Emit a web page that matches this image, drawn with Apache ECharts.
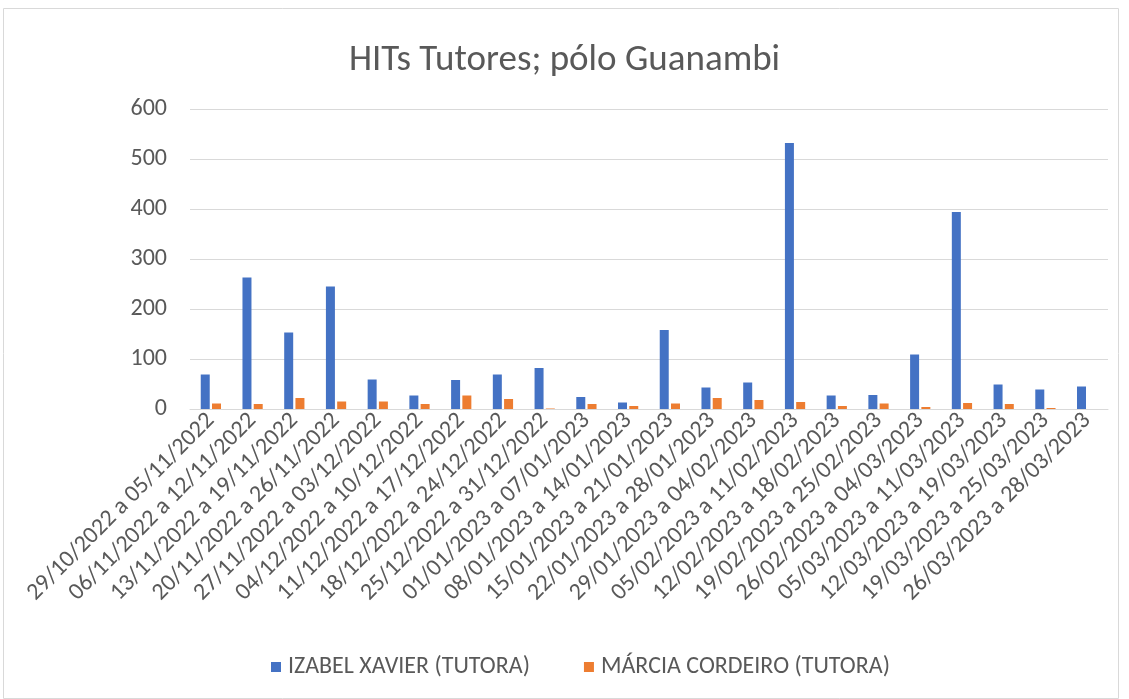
<!DOCTYPE html>
<html>
<head>
<meta charset="utf-8">
<script src="https://cdn.jsdelivr.net/npm/echarts@6/dist/echarts.min.js"></script>
<style>
  body { margin: 0; background: #fff; }
  #chart { width: 1129px; height: 699px; }
</style>
</head>
<body>
<div id="chart"></div>
<script>
var semanas = [
  '29/10/2022 a 05/11/2022', '06/11/2022 a 12/11/2022', '13/11/2022 a 19/11/2022',
  '20/11/2022 a 26/11/2022', '27/11/2022 a 03/12/2022', '04/12/2022 a 10/12/2022',
  '11/12/2022 a 17/12/2022', '18/12/2022 a 24/12/2022', '25/12/2022 a 31/12/2022',
  '01/01/2023 a 07/01/2023', '08/01/2023 a 14/01/2023', '15/01/2023 a 21/01/2023',
  '22/01/2023 a 28/01/2023', '29/01/2023 a 04/02/2023', '05/02/2023 a 11/02/2023',
  '12/02/2023 a 18/02/2023', '19/02/2023 a 25/02/2023', '26/02/2023 a 04/03/2023',
  '05/03/2023 a 11/03/2023', '12/03/2023 a 19/03/2023', '19/03/2023 a 25/03/2023',
  '26/03/2023 a 28/03/2023'
];
var izabel = [69, 263, 153, 245, 59, 27, 58, 69, 82, 24, 13, 158, 43, 53, 532, 27, 28, 109, 394, 49, 39, 45];
var marcia = [11, 10, 22, 15, 15, 10, 27, 20, 1, 10, 6, 11, 22, 18, 14, 6, 11, 4, 12, 10, 2, 0];

var fonte = 'Carlito, "Liberation Sans Narrow", "Open Sans", sans-serif';
var cinza = '#595959';

var myChart = echarts.init(document.getElementById('chart'));
myChart.setOption({
  textStyle: { fontFamily: fonte },
  graphic: [{
    type: 'rect',
    shape: { x: 3.5, y: 8.5, width: 1115, height: 690 },
    style: { fill: 'none', stroke: '#d9d9d9', lineWidth: 1 },
    silent: true
  }],
  title: {
    text: 'HITs Tutores; pólo Guanambi',
    left: 'center',
    top: 37,
    textStyle: { fontFamily: fonte, fontSize: 37, fontWeight: 'normal', color: cinza }
  },
  legend: {
    top: 650,
    left: 266,
    itemWidth: 10,
    itemHeight: 10,
    itemGap: 54,
    icon: 'rect',
    textStyle: { fontFamily: fonte, fontSize: 24, color: cinza, padding: [0, 0, 0, 2] }
  },
  grid: { left: 190, right: 21, top: 109, bottom: 290, containLabel: false },
  xAxis: {
    type: 'category',
    data: semanas,
    axisLine: { lineStyle: { color: '#d9d9d9' } },
    axisTick: { show: false },
    axisLabel: { rotate: 45, interval: 0, fontSize: 24, color: cinza, margin: 8, fontFamily: fonte }
  },
  yAxis: {
    type: 'value',
    min: 0,
    max: 600,
    interval: 100,
    axisLine: { show: false },
    axisTick: { show: false },
    axisLabel: { fontSize: 24, color: cinza, margin: 23, fontFamily: fonte },
    splitLine: { lineStyle: { color: '#d9d9d9' } }
  },
  series: [
    { name: 'IZABEL XAVIER (TUTORA)', type: 'bar', data: izabel, barWidth: 9, barGap: '25%',
      itemStyle: { color: '#4472c4' } },
    { name: 'MÁRCIA CORDEIRO (TUTORA)', type: 'bar', data: marcia, barWidth: 9,
      itemStyle: { color: '#ed7d31' } }
  ]
});
</script>
</body>
</html>
